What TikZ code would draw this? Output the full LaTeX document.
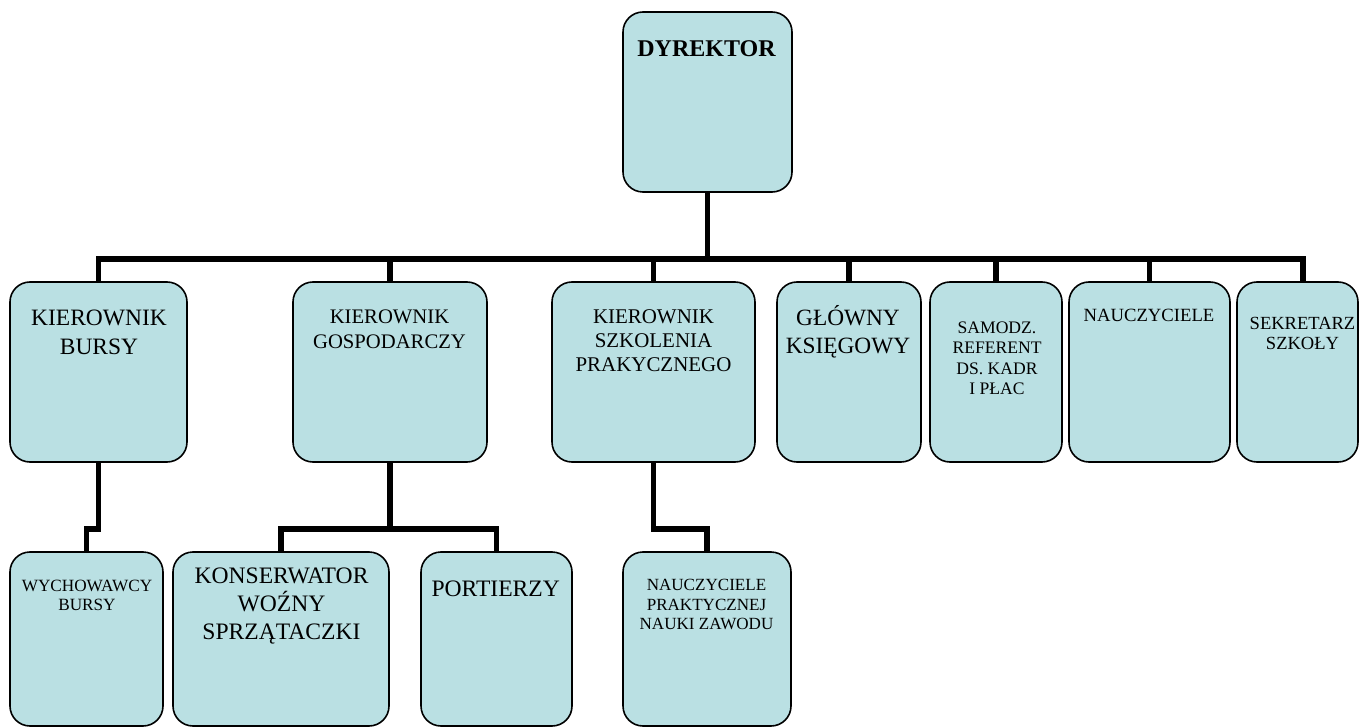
\documentclass[tikz,border=0pt]{standalone}
\usepackage{fontspec}
\setmainfont{Liberation Serif}
\usetikzlibrary{backgrounds}
\definecolor{boxfill}{RGB}{186,224,227}
\newcommand\fsz[2]{\fontsize{#1}{#2}\selectfont}
\begin{document}
\begin{tikzpicture}[x=0.75pt,y=-0.75pt,
  bx/.style 2 args={draw=black, line width=1.2pt, fill=boxfill, rounded corners=15pt,
    minimum width=#1*0.75pt, minimum height=#2*0.75pt, inner sep=0pt, outer sep=0pt},
  conn/.style={line width=4.3pt, draw=black},
  lbl/.style={align=center, inner sep=0pt, text=black}]
\useasboundingbox (0,0) rectangle (1360,727);

% boxes
\node[bx={169}{180}] (dyr) at (707.5,102) {};
\node[bx={177}{180}] (kb) at (98.5,372) {};
\node[bx={194}{180}] (kg) at (390,372) {};
\node[bx={203}{180}] (ks) at (653.5,372) {};
\node[bx={144}{180}] (gk) at (849,372) {};
\node[bx={132}{180}] (sr) at (996,372) {};
\node[bx={161}{180}] (nc) at (1149.5,372) {};
\node[bx={121}{180}] (sk) at (1297.5,372) {};
\node[bx={153}{174}] (wb) at (86.5,639) {};
\node[bx={216}{174}] (kw) at (281,639) {};
\node[bx={151}{174}] (pt) at (496.5,639) {};
\node[bx={168}{174}] (np) at (707,639) {};

% texts
\node[lbl, font=\fsz{18}{22}\bfseries] (tdyr) at (706.5,48.5) {DYREKTOR};
\node[lbl, font=\fsz{17.6}{21.75}] (tkb) at (99,332.5) {KIEROWNIK\\BURSY};
\node[lbl, font=\fsz{15.5}{18.75}] (tkg) at (389.5,329.5) {KIEROWNIK\\GOSPODARCZY};
\node[lbl, font=\fsz{15.7}{18}] (tks) at (653.5,341) {KIEROWNIK\\SZKOLENIA\\PRAKYCZNEGO};
\node[lbl, font=\fsz{17.5}{21}] (tgk) at (848,331.4) {GŁÓWNY\\KSIĘGOWY};
\node[lbl, font=\fsz{13.2}{15.3}] (tsr) at (997,358.3) {SAMODZ.\\REFERENT\\DS. KADR\\I PŁAC};
\node[lbl, font=\fsz{14}{16}] (tnc) at (1149,315) {NAUCZYCIELE};
\node[lbl, font=\fsz{13.9}{15}] (tsk) at (1302.5,333) {SEKRETARZ\\SZKOŁY};
\node[lbl, font=\fsz{12.9}{14.25}] (twb) at (87,595.5) {WYCHOWAWCY\\BURSY};
\node[lbl, font=\fsz{17.7}{21}] (tkw) at (281.5,606.5) {KONSERWATOR\\WOŹNY\\SPRZĄTACZKI};
\node[lbl, font=\fsz{17.7}{21}] (tpt) at (495.7,588.7) {PORTIERZY};
\node[lbl, font=\fsz{12.8}{14.6}] (tnp) at (706.5,604.5) {NAUCZYCIELE\\PRAKTYCZNEJ\\NAUKI ZAWODU};

% connectors
\coordinate (bus) at (0,259);
\coordinate (lv) at (0,529);
\begin{scope}[on background layer]
\foreach \c in {kb,kg,ks,gk,sr,nc}
  \draw[conn] (dyr.south) -- (dyr.south |- bus) -| (\c.north);
\draw[conn] (dyr.south) -- (dyr.south |- bus) -| ([xshift=4.1pt]sk.north);
\draw[conn] (kb.south) -- (kb.south |- lv) -| (wb.north);
\draw[conn] (kg.south) -- (kg.south |- lv) -| (kw.north);
\draw[conn] (kg.south) -- (kg.south |- lv) -| (pt.north);
\draw[conn] (ks.south) -- (ks.south |- lv) -| (np.north);
\end{scope}
\end{tikzpicture}
\end{document}
